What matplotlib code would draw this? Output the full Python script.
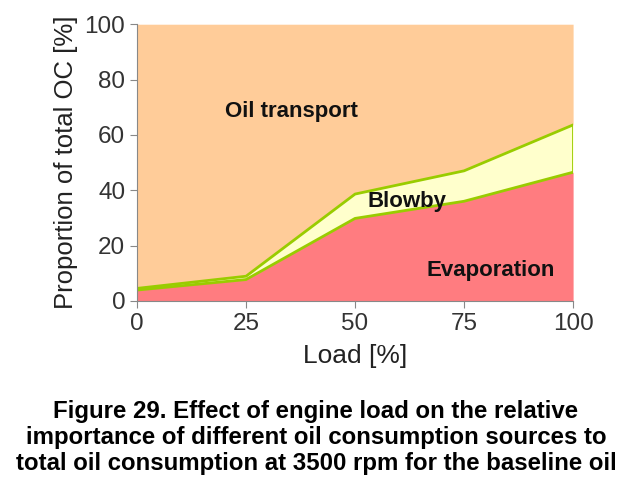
import matplotlib
matplotlib.use("Agg")
import matplotlib.pyplot as plt

load = [0, 25, 50, 75, 100]
evaporation = [3.9, 7.7, 29.8, 36.0, 46.5]
blowby_top = [4.5, 8.9, 38.6, 47.0, 63.6]
total = [100, 100, 100, 100, 100]

caption = ("Figure 29. Effect of engine load on the relative\n"
           "importance of different oil consumption sources to\n"
           "total oil consumption at 3500 rpm for the baseline oil")

plt.rcParams["font.family"] = ["Liberation Sans", "DejaVu Sans"]

fig = plt.figure(figsize=(6.32, 4.94), dpi=100)
ax = fig.add_axes([0.2168, 0.391, 0.69, 0.56])

ax.fill_between(load, blowby_top, total, color="#FFCC99", lw=0)
ax.fill_between(load, evaporation, blowby_top, color="#FFFFCC", lw=0)
ax.fill_between(load, 0, evaporation, color="#FF7C80", lw=0)
ax.plot(load, blowby_top, color="#99CC00", lw=2)
ax.plot(load, evaporation, color="#99CC00", lw=2)
ax.plot([100, 100], [evaporation[-1], blowby_top[-1]], color="#99CC00", lw=2)

ax.text(35.5, 68.5, "Oil transport", fontsize=16, fontweight="bold",
        ha="center", va="center", color="#111111")
ax.text(62, 36, "Blowby", fontsize=16, fontweight="bold",
        ha="center", va="center", color="#111111")
ax.text(81, 11, "Evaporation", fontsize=16, fontweight="bold",
        ha="center", va="center", color="#111111")

ax.set_xlim(0, 100)
ax.set_ylim(0, 100)
ax.set_xticks(load)
ax.set_yticks([0, 20, 40, 60, 80, 100])
ax.tick_params(labelsize=17.5, colors="#888888", labelcolor="#333333",
               direction="out", length=5)
for s in ["top", "right"]:
    ax.spines[s].set_visible(False)
for s in ["left", "bottom"]:
    ax.spines[s].set_color("#888888")
ax.set_xlabel("Load [%]", fontsize=19, color="#222222", labelpad=7)
ax.set_ylabel("Proportion of total OC [%]", fontsize=18.5, color="#222222", labelpad=5)

fig.text(0.5, 0.114, caption, fontsize=17.3, fontweight="bold",
         ha="center", va="center", linespacing=1.15)

fig.savefig("out.png", dpi=100)
